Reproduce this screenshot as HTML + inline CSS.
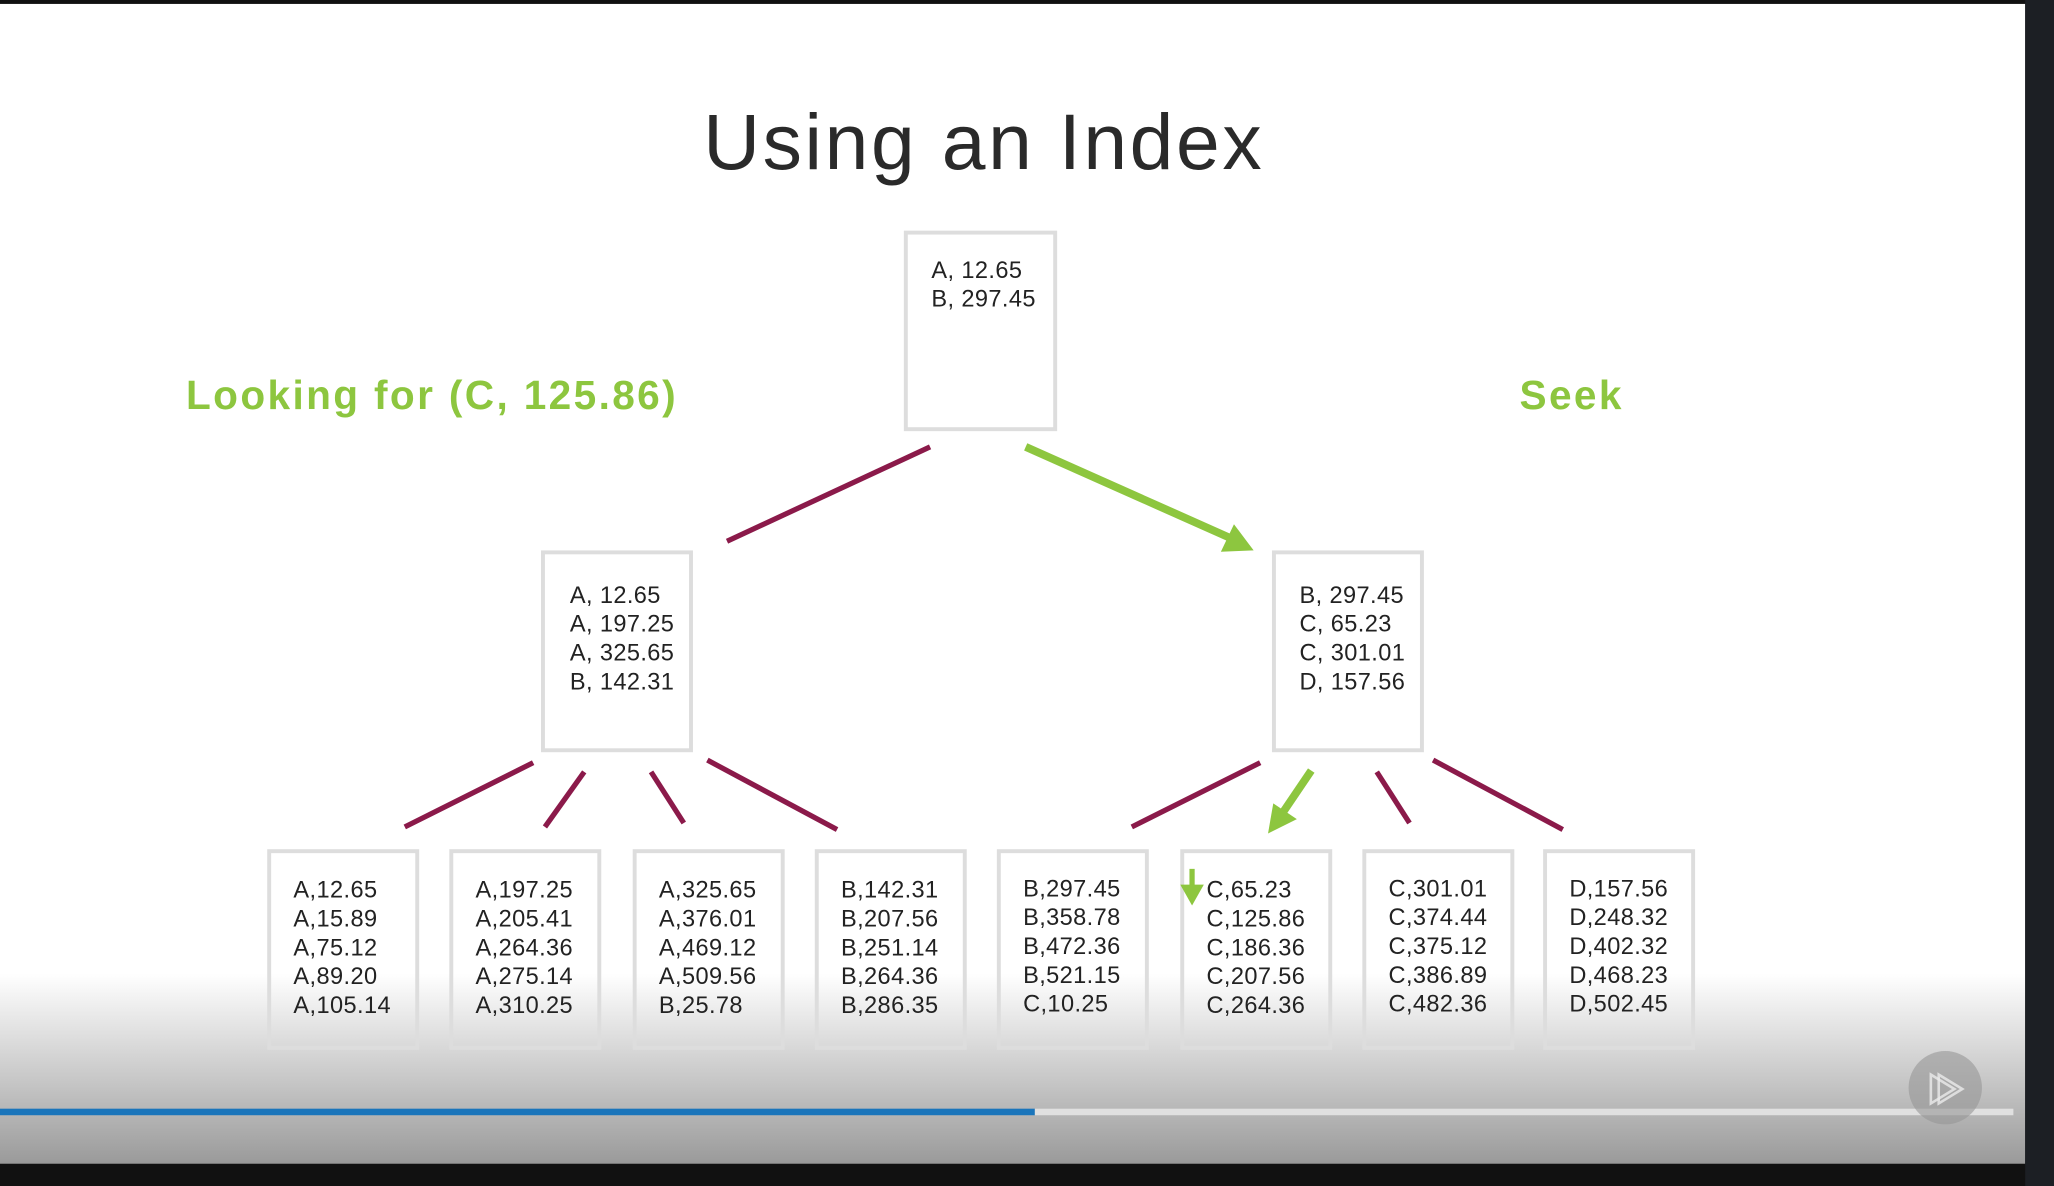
<!DOCTYPE html>
<html><head><meta charset="utf-8"><style>
html,body{margin:0;padding:0;background:#111;}
body{width:2054px;height:1186px;overflow:hidden;position:relative;}
#s{position:absolute;left:0;top:0;width:1568px;height:905px;transform:scale(1.30995,1.3105);transform-origin:0 0;background:#111;font-family:"Liberation Sans",sans-serif;}
.slide{position:absolute;left:0;top:3px;width:1546px;height:885px;background:linear-gradient(to bottom,#fff 0,#fff 740px,#c8c8c8 820px,#9a9a9a 885px);}
.side{position:absolute;left:1546px;top:0;width:22px;height:905px;background:#1c1f24;}
.box{position:absolute;border:3px solid #ddd;box-sizing:border-box;background:transparent;font-size:18px;line-height:22px;color:#222;padding-left:17px;letter-spacing:0.3px;}
.t{position:absolute;font-weight:bold;color:#8dc63f;font-size:31px;letter-spacing:1.8px;}
</style></head><body><div id="s">
<div class="slide"></div><div class="side"></div>
<div style="position:absolute;left:0;top:846px;width:790px;height:5px;background:#1a75bb"></div>
<div style="position:absolute;left:790px;top:846px;width:747px;height:5px;background:#e0e0e0"></div>
<div style="position:absolute;left:1457px;top:802px;width:56px;height:56px;border-radius:50%;background:rgba(150,150,150,.6)"></div>
<div style="position:absolute;left:0;top:74px;width:1502px;text-align:center;font-size:60px;color:#2a2a2a;font-weight:300;letter-spacing:2px">Using an Index</div>
<div class="t" style="left:142px;top:284px">Looking for (C, 125.86)</div>
<div class="t" style="left:1160px;top:284px">Seek</div>
<div class="box" style="left:690px;top:176px;width:117px;height:153px;padding-top:16px;padding-left:18px">A, 12.65<br>B, 297.45</div>
<div class="box" style="left:413px;top:420px;width:116px;height:154px;padding-top:20px;padding-left:19px">A, 12.65<br>A, 197.25<br>A, 325.65<br>B, 142.31</div>
<div class="box" style="left:971px;top:420px;width:116px;height:154px;padding-top:20px;padding-left:18px">B, 297.45<br>C, 65.23<br>C, 301.01<br>D, 157.56</div>
<div class="box" style="left:204px;top:648px;width:116px;height:153px;padding-top:17px">A,12.65<br>A,15.89<br>A,75.12<br>A,89.20<br>A,105.14</div>
<div class="box" style="left:343px;top:648px;width:116px;height:153px;padding-top:17px">A,197.25<br>A,205.41<br>A,264.36<br>A,275.14<br>A,310.25</div>
<div class="box" style="left:483px;top:648px;width:116px;height:153px;padding-top:17px">A,325.65<br>A,376.01<br>A,469.12<br>A,509.56<br>B,25.78</div>
<div class="box" style="left:622px;top:648px;width:116px;height:153px;padding-top:17px">B,142.31<br>B,207.56<br>B,251.14<br>B,264.36<br>B,286.35</div>
<div class="box" style="left:761px;top:648px;width:116px;height:153px;padding-top:16px">B,297.45<br>B,358.78<br>B,472.36<br>B,521.15<br>C,10.25</div>
<div class="box" style="left:901px;top:648px;width:116px;height:153px;padding-top:17px">C,65.23<br>C,125.86<br>C,186.36<br>C,207.56<br>C,264.36</div>
<div class="box" style="left:1040px;top:648px;width:116px;height:153px;padding-top:16px">C,301.01<br>C,374.44<br>C,375.12<br>C,386.89<br>C,482.36</div>
<div class="box" style="left:1178px;top:648px;width:116px;height:153px;padding-top:16px">D,157.56<br>D,248.32<br>D,402.32<br>D,468.23<br>D,502.45</div>
<svg style="position:absolute;left:0;top:0" width="1568" height="905">
<g stroke="#8b1a4a" stroke-width="4" fill="none">
<line x1="710" y1="341" x2="555" y2="413"/>
<line x1="407" y1="582" x2="309" y2="631"/><line x1="446" y1="589" x2="416" y2="631"/>
<line x1="497" y1="589" x2="522" y2="628"/><line x1="540" y1="580" x2="639" y2="633"/>
<line x1="962" y1="582" x2="864" y2="631"/><line x1="1051" y1="589" x2="1076" y2="628"/>
<line x1="1094" y1="580" x2="1193" y2="633"/>
</g>
<g stroke="#8dc63f" stroke-width="6" fill="#8dc63f">
<line x1="783" y1="341" x2="938" y2="410"/>
<polygon points="957,420 932,421 942,400" stroke="none"/>
<line x1="1001" y1="588" x2="980" y2="619"/>
<polygon points="968,636 972,613 990,625" stroke="none"/>
<line x1="910" y1="663" x2="910" y2="678" stroke-width="4"/>
<polygon points="901,675 919,675 910,691" stroke="none"/>
</g>
<g fill="none" stroke="rgba(235,235,235,.8)" stroke-width="2"><polygon points="1474,820 1474,842 1492,831"/><polygon points="1480,820 1480,842 1498,831"/></g>
</svg>
</div></body></html>
